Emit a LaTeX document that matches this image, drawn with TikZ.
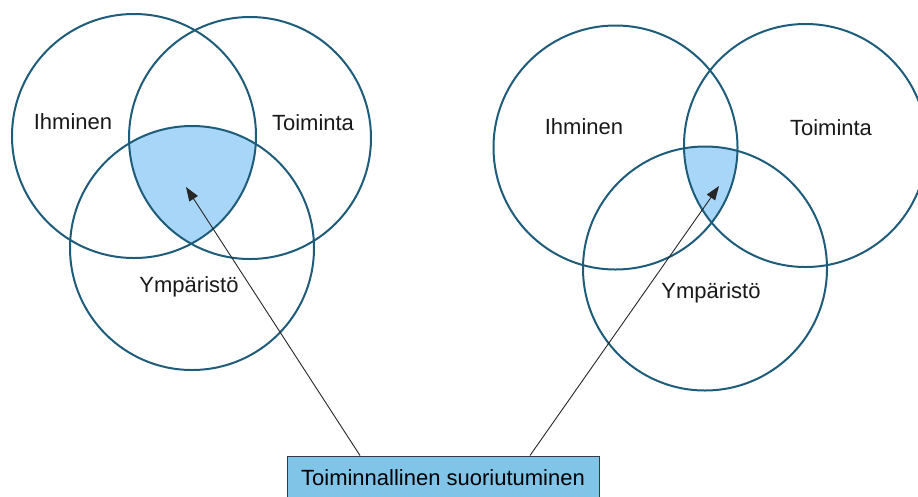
\documentclass[tikz,border=0pt]{standalone}
\usepackage{fontspec}
\setmainfont{Liberation Sans}
\usetikzlibrary{arrows.meta}
\definecolor{ring}{RGB}{30,92,122}
\definecolor{core}{RGB}{168,214,248}
\definecolor{boxfill}{RGB}{128,196,232}
\definecolor{boxline}{RGB}{50,60,70}
\tikzset{
  ring/.style={draw=ring, line width=2pt},
  lbl/.style={font=\fontsize{22}{25}\selectfont, text=black!90, inner sep=0pt},
  arr/.style={draw=black!85, line width=0.9pt, -{Triangle[length=14pt,width=10pt]}},
  boxstyle/.style={draw=boxline, fill=boxfill, line width=1pt, minimum width=312pt, minimum height=44pt, inner sep=0pt, font=\fontsize{22}{25}\selectfont}
}
\begin{document}
\begin{tikzpicture}[x=1pt,y=-1pt]
\useasboundingbox (0,0) rectangle (918,496);
\clip (0,0) rectangle (918,496);
% left diagram
\begin{scope}
\clip (134,136) circle (122);
\clip (250,138) circle (121);
\fill[core] (192,248) circle (122);
\end{scope}
\draw[ring] (134,136) circle (122);
\draw[ring] (250,138) circle (121);
\draw[ring] (192,248) circle (122);
\node[lbl] (ih1) at (73,122) {Ihminen};
\node[lbl] (to1) at (313,123) {Toiminta};
\node[lbl] (ym1) at (189,287) {Ympäristö};
% right diagram
\begin{scope}
\clip (615.5,147.5) circle (122);
\clip (805.5,145.5) circle (121.5);
\fill[core] (705,268.5) circle (122);
\end{scope}
\draw[ring] (615.5,147.5) circle (122);
\draw[ring] (805.5,145.5) circle (121.5);
\draw[ring] (705,268.5) circle (122);
\node[lbl] (ih2) at (584,127) {Ihminen};
\node[lbl] (to2) at (831,128) {Toiminta};
\node[lbl] (ym2) at (711,293) {Ympäristö};
% box and arrows
\node[boxstyle] (box) at (443,478) {Toiminnallinen suoriutuminen};
\coordinate (t1) at (186,187);
\coordinate (t2) at (719,186);
\draw[arr] ([xshift=-83pt]box.north) -- (t1);
\draw[arr] ([xshift=87pt]box.north) -- (t2);
\end{tikzpicture}
\end{document}
